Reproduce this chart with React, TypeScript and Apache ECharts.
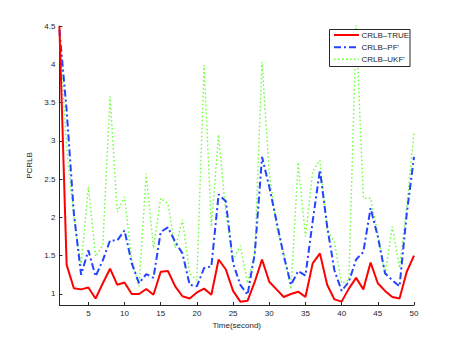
import React, { useEffect, useRef } from "react";
import * as echarts from "echarts";

const timeSteps = [1, 2, 3, 4, 5, 6, 7, 8, 9, 10, 11, 12, 13, 14, 15, 16, 17, 18, 19, 20, 21, 22, 23, 24, 25, 26, 27, 28, 29, 30, 31, 32, 33, 34, 35, 36, 37, 38, 39, 40, 41, 42, 43, 44, 45, 46, 47, 48, 49, 50];

const crlbTrue = [4.5, 1.38, 1.075, 1.06, 1.085, 0.94, 1.14, 1.33, 1.12, 1.15, 1.0, 1.0, 1.065, 0.99, 1.29, 1.3, 1.1, 0.97, 0.94, 1.02, 1.07, 0.99, 1.45, 1.32, 1.04, 0.9, 0.91, 1.16, 1.45, 1.16, 1.06, 0.96, 1.0, 1.03, 0.96, 1.4, 1.53, 1.12, 0.93, 0.9, 1.07, 1.21, 1.06, 1.41, 1.14, 1.04, 0.96, 0.94, 1.29, 1.5];

const crlbPF = [4.45, 3.4, 2.05, 1.25, 1.57, 1.23, 1.44, 1.7, 1.7, 1.83, 1.4, 1.14, 1.26, 1.21, 1.81, 1.87, 1.68, 1.53, 1.12, 1.1, 1.34, 1.36, 2.3, 2.21, 1.4, 1.12, 0.99, 1.53, 2.79, 2.4, 1.95, 1.5, 1.12, 1.3, 1.24, 1.95, 2.62, 1.88, 1.31, 1.04, 1.16, 1.45, 1.55, 2.12, 1.75, 1.27, 1.18, 1.1, 2.05, 2.79];

const crlbUKF = [4.5, 2.9, 2.0, 1.37, 2.4, 1.49, 1.64, 3.58, 2.07, 2.27, 1.44, 1.1, 2.57, 1.6, 2.25, 2.18, 1.6, 1.97, 1.27, 1.18, 3.99, 1.88, 3.08, 2.05, 1.44, 1.63, 1.14, 1.53, 4.03, 2.58, 1.88, 1.53, 1.06, 2.72, 1.75, 2.6, 2.75, 1.84, 1.68, 1.14, 1.18, 4.51, 2.25, 2.25, 1.79, 1.25, 1.88, 1.34, 2.14, 3.11];

const xTicks = [5, 10, 15, 20, 25, 30, 35, 40, 45, 50];
const yTicks = [1, 1.5, 2, 2.5, 3, 3.5, 4, 4.5];

const seriesNames = ["CRLB–TRUE", "CRLB–PF'", "CRLB–UKF'"];

const FONT = '"Liberation Sans", Arial, Helvetica, sans-serif';
const AXIS_COLOR = "#262626";
const RED = "#ff0000";
const BLUE = "#2244ff";
const GREEN = "#66ff33";

const toPairs = (vals: number[]) => vals.map((v, i) => [timeSteps[i], v]);

export default function App() {
  const ref = useRef<HTMLDivElement>(null);

  useEffect(() => {
    document.body.style.margin = "0";
    if (!ref.current) return;
    const chart = echarts.init(ref.current, null, { renderer: "svg" });

    const axisCommon = {
      type: "value" as const,
      nameLocation: "middle" as const,
      nameTextStyle: { fontSize: 8, color: AXIS_COLOR, fontFamily: FONT },
      axisLine: { show: true, onZero: false, lineStyle: { color: AXIS_COLOR, width: 1 } },
      splitLine: { show: false },
    };

    const legendX = 329.5;
    const legendY = 29.5;
    const rowYs = [35, 47.3, 59.3];
    const styles = [
      { stroke: RED, lineWidth: 2, lineDash: null as any },
      { stroke: BLUE, lineWidth: 2, lineDash: [7, 3, 2, 3] },
      { stroke: GREEN, lineWidth: 1.4, lineDash: [1.5, 2.5] },
    ];
    const legendGraphics: any[] = [
      {
        type: "rect",
        z: 100,
        shape: { x: legendX, y: legendY, width: 80.5, height: 37 },
        style: { fill: "#ffffff", stroke: AXIS_COLOR, lineWidth: 1 },
      },
    ];
    seriesNames.forEach((name, i) => {
      legendGraphics.push({
        type: "line",
        z: 101,
        shape: { x1: 334, y1: rowYs[i], x2: 359, y2: rowYs[i] },
        style: { ...styles[i], fill: null },
      });
      legendGraphics.push({
        type: "text",
        z: 101,
        x: 361.5,
        y: rowYs[i],
        style: {
          text: name,
          fontSize: 8,
          fontFamily: FONT,
          fill: AXIS_COLOR,
          verticalAlign: "middle",
          align: "left",
        },
      });
    });

    chart.setOption({
      animation: false,
      backgroundColor: "#ffffff",
      grid: { left: 59.4, right: 43, top: 26, bottom: 39, containLabel: false },
      xAxis: {
        ...axisCommon,
        min: 1,
        max: 50,
        name: "Time(second)",
        nameGap: 13,
        axisTick: { show: true, inside: true, length: 3, customValues: xTicks, lineStyle: { color: AXIS_COLOR } },
        axisLabel: { customValues: xTicks, fontSize: 8, margin: 4, color: AXIS_COLOR, fontFamily: FONT },
      },
      yAxis: {
        ...axisCommon,
        min: 0.856,
        max: 4.5,
        name: "PCRLB",
        nameGap: 17,
        axisTick: { show: true, inside: true, length: 3, customValues: yTicks, lineStyle: { color: AXIS_COLOR } },
        axisLabel: { customValues: yTicks, fontSize: 8, margin: 4, color: AXIS_COLOR, fontFamily: FONT },
      },
      series: [
        {
          name: seriesNames[2],
          type: "line",
          data: toPairs(crlbUKF),
          symbol: "none",
          lineStyle: { color: GREEN, width: 1.4, type: [1.5, 2.5] },
          itemStyle: { color: GREEN },
          z: 2,
        },
        {
          name: seriesNames[1],
          type: "line",
          data: toPairs(crlbPF),
          symbol: "none",
          lineStyle: { color: BLUE, width: 2, type: [7, 3, 2, 3] },
          itemStyle: { color: BLUE },
          z: 3,
        },
        {
          name: seriesNames[0],
          type: "line",
          data: toPairs(crlbTrue),
          symbol: "none",
          lineStyle: { color: RED, width: 2, type: "solid" },
          itemStyle: { color: RED },
          z: 4,
        },
      ],
      graphic: legendGraphics,
    });

    return () => chart.dispose();
  }, []);

  return (
    <div
      ref={ref}
      style={{ position: "absolute", left: 0, top: 0, width: 457, height: 344 }}
    />
  );
}
